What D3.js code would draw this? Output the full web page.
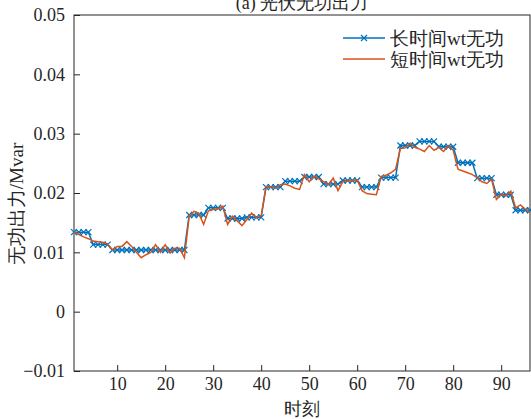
<!DOCTYPE html>
<html>
<head>
<meta charset="utf-8">
<script src="https://cdn.jsdelivr.net/npm/d3@7"></script>
<style>
  body { margin: 0; background: #fff; }
</style>
</head>
<body>
<div id="chart"></div>
<script>
// data
let times = d3.range(1, 97)
let longQ = [
  0.0134, 0.0134, 0.0134, 0.0134, 0.0113, 0.0113, 0.0113, 0.0113,
  0.0104, 0.0104, 0.0104, 0.0104, 0.0104, 0.0104, 0.0104, 0.0104,
  0.0104, 0.0104, 0.0104, 0.0104, 0.0104, 0.0104, 0.0104, 0.0104,
  0.0163, 0.0163, 0.0163, 0.0163, 0.0175, 0.0175, 0.0175, 0.0175,
  0.0157, 0.0157, 0.0157, 0.0157, 0.0159, 0.0159, 0.0159, 0.0159,
  0.0210, 0.0210, 0.0210, 0.0210, 0.0220, 0.0220, 0.0220, 0.0220,
  0.0227, 0.0227, 0.0227, 0.0227, 0.0215, 0.0215, 0.0215, 0.0215,
  0.0221, 0.0221, 0.0221, 0.0221, 0.0210, 0.0210, 0.0210, 0.0210,
  0.0226, 0.0226, 0.0226, 0.0226, 0.0280, 0.0280, 0.0280, 0.0280,
  0.0287, 0.0287, 0.0287, 0.0287, 0.0278, 0.0278, 0.0278, 0.0278,
  0.0251, 0.0251, 0.0251, 0.0251, 0.0225, 0.0225, 0.0225, 0.0225,
  0.0197, 0.0197, 0.0197, 0.0197, 0.0171, 0.0171, 0.0171, 0.0171
]
let shortQ = [
  0.0134, 0.0130, 0.0126, 0.0123, 0.0119, 0.0118, 0.0117, 0.0114,
  0.0104, 0.0110, 0.0110, 0.0118, 0.0110, 0.0100, 0.0091, 0.0096,
  0.0100, 0.0113, 0.0100, 0.0113, 0.0099, 0.0107, 0.0107, 0.0091,
  0.0161, 0.0169, 0.0166, 0.0147, 0.0170, 0.0172, 0.0173, 0.0178,
  0.0147, 0.0161, 0.0153, 0.0145, 0.0155, 0.0166, 0.0158, 0.0162,
  0.0211, 0.0210, 0.0208, 0.0214, 0.0215, 0.0212, 0.0208, 0.0206,
  0.0231, 0.0219, 0.0228, 0.0224, 0.0219, 0.0214, 0.0225, 0.0204,
  0.0219, 0.0221, 0.0221, 0.0222, 0.0204, 0.0199, 0.0198, 0.0197,
  0.0228, 0.0230, 0.0234, 0.0240, 0.0275, 0.0276, 0.0284, 0.0277,
  0.0274, 0.0270, 0.0280, 0.0272, 0.0277, 0.0270, 0.0280, 0.0272,
  0.0240, 0.0237, 0.0234, 0.0231, 0.0226, 0.0219, 0.0216, 0.0223,
  0.0189, 0.0198, 0.0195, 0.0203, 0.0175, 0.0180, 0.0173, 0.0167
]
let xTicks = [10, 20, 30, 40, 50, 60, 70, 80, 90]
let yTicks = [-0.01, 0, 0.01, 0.02, 0.03, 0.04, 0.05]
let seriesNames = ["长时间wt无功", "短时间wt无功"]
let seriesColors = ["#0072BD", "#D95319"]

let FONT = "'Liberation Serif'"

let W = 531, H = 419
let margin = {top: 15, right: 1, bottom: 48, left: 74},
    width = W - margin.left - margin.right,
    height = H - margin.top - margin.bottom

let svg = d3.select("#chart")
  .append("svg")
    .attr("width", W)
    .attr("height", H)

let plot = svg.append("g")
    .attr("transform", "translate(" + margin.left + "," + margin.top + ")")

let x = d3.scaleLinear().domain([1, 96]).range([0, width])
let y = d3.scaleLinear().domain([-0.01, 0.05]).range([height, 0])

// axes, ticks pointing inward
let xAxis = plot.append("g")
  .attr("transform", "translate(0," + height + ")")
  .call(d3.axisBottom(x).tickValues(xTicks).tickSize(-6).tickPadding(6).tickFormat(d3.format("d")))
let yAxis = plot.append("g")
  .call(d3.axisLeft(y).tickValues(yTicks).tickSize(-6).tickPadding(9)
    .tickFormat(d => d == 0 ? "0" : d3.format(".2f")(d).replace("-", "\u2212")))

;[xAxis, yAxis].forEach(a => {
  a.attr("font-family", null).attr("font-size", null)
  a.select(".domain").remove()
  a.selectAll("line").attr("stroke", "#262626")
  a.selectAll("text")
    .style("font-family", FONT)
    .style("font-size", "18px")
    .attr("fill", "#262626")
})

// box
plot.append("rect")
  .attr("width", width)
  .attr("height", height)
  .attr("fill", "none")
  .attr("stroke", "#262626")
  .attr("stroke-width", 1)

let line = d3.line()
  .x((d, i) => x(times[i]))
  .y(d => y(d))

// long series with x markers
plot.append("path")
  .datum(longQ)
  .attr("fill", "none")
  .attr("stroke", seriesColors[0])
  .attr("stroke-width", 1.5)
  .attr("d", line)

let m = 3
let cross = "M" + (-m) + "," + (-m) + "L" + m + "," + m + "M" + (-m) + "," + m + "L" + m + "," + (-m)
plot.selectAll(".mk")
  .data(longQ)
  .enter()
  .append("path")
    .attr("class", "mk")
    .attr("transform", (d, i) => "translate(" + x(times[i]) + "," + y(d) + ")")
    .attr("d", cross)
    .attr("stroke", seriesColors[0])
    .attr("stroke-width", 1.2)

plot.append("path")
  .datum(shortQ)
  .attr("fill", "none")
  .attr("stroke", seriesColors[1])
  .attr("stroke-width", 1.5)
  .attr("d", line)

// legend
let legend = svg.append("g")
seriesNames.forEach((name, i) => {
  let ly = 38 + i * 21
  legend.append("line")
    .attr("x1", 343).attr("x2", 385)
    .attr("y1", ly).attr("y2", ly)
    .attr("stroke", seriesColors[i])
    .attr("stroke-width", 1.5)
  if (i == 0) {
    legend.append("path")
      .attr("transform", "translate(364," + ly + ")")
      .attr("d", cross)
      .attr("stroke", seriesColors[0])
      .attr("stroke-width", 1.2)
  }
  legend.append("text")
    .attr("x", 390)
    .attr("y", ly)
    .attr("dy", "0.35em")
    .attr("fill", "#262626")
    .style("font-family", FONT)
    .style("font-size", "19px")
    .text(name)
})

// title, mostly cut off at the top as in the original
svg.append("text")
  .attr("x", margin.left + width / 2)
  .attr("y", 9)
  .attr("text-anchor", "middle")
  .attr("fill", "#262626")
  .style("font-family", FONT)
  .style("font-size", "18px")
  .text("(a) 光伏无功出力")

svg.append("text")
  .attr("x", margin.left + width / 2)
  .attr("y", 415)
  .attr("text-anchor", "middle")
  .attr("fill", "#262626")
  .style("font-family", FONT)
  .style("font-size", "18px")
  .text("时刻")

svg.append("text")
  .attr("transform", "translate(23,204) rotate(-90)")
  .attr("text-anchor", "middle")
  .attr("fill", "#262626")
  .style("font-family", FONT)
  .style("font-size", "19px")
  .text("无功出力/Mvar")
</script>
</body>
</html>
